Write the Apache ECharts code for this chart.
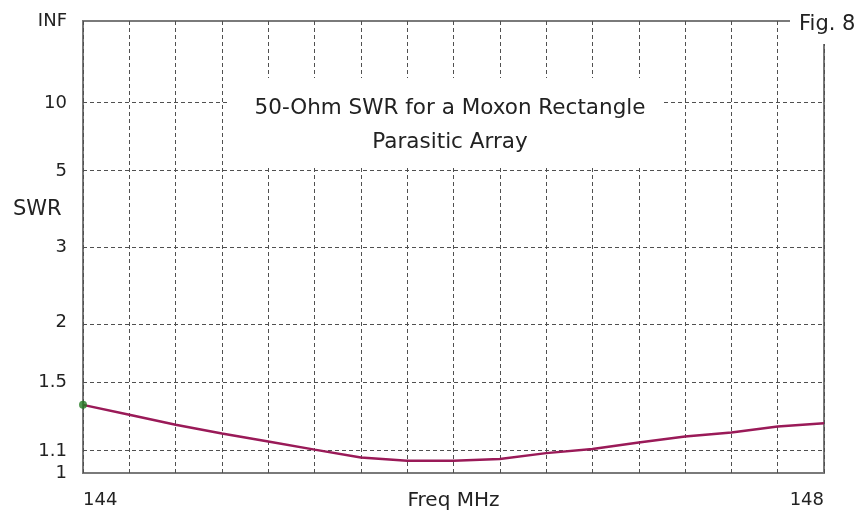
<!DOCTYPE html>
<html>
<head>
<meta charset="utf-8">
<script src="https://cdn.jsdelivr.net/npm/echarts@6/dist/echarts.min.js"></script>
<style>
  html, body { margin: 0; padding: 0; background: #fff; }
  #chart { width: 859px; height: 512px; }
</style>
</head>
<body>
<div id="chart"></div>
<script>
// frequency points (MHz) and SWR
const freqs = [144, 144.25, 144.5, 144.75, 145, 145.25, 145.5, 145.75, 146,
  146.25, 146.5, 146.75, 147, 147.25, 147.5, 147.75, 148];
const swr = [1.355, 1.296, 1.239, 1.192, 1.150, 1.109, 1.071, 1.056, 1.056,
  1.064, 1.092, 1.112, 1.145, 1.176, 1.197, 1.229, 1.248];

// y axis ticks (SWR scale, plotted as reflection coefficient)
const yTickLabels = ['INF', '10', '5', '3', '2', '1.5', '1.1', '1'];
const yTickSwr = [Infinity, 10, 5, 3, 2, 1.5, 1.1, 1];
const gridSwr = [10, 5, 3, 2, 1.5, 1.1];

const xLabels = [144, 148];

function toRho(s) {
  if (s === Infinity) return 1;
  return (s - 1) / (s + 1);
}

const yTickRho = yTickSwr.map(toRho);
const lineData = freqs.map(function (f, i) { return [f, toRho(swr[i])]; });

const textColor = '#222';
const gridColor = '#505050';
const fontFamily = '"DejaVu Sans", Verdana, sans-serif';

const chart = echarts.init(document.getElementById('chart'), null, { renderer: 'canvas' });

chart.setOption({
  animation: false,
  backgroundColor: '#fff',
  grid: {
    left: 83, right: 35, top: 21, bottom: 39,
    outerBoundsMode: 'none',
    containLabel: false,
    show: true,
    borderColor: '#7a7a7a',
    borderWidth: 2
  },
  xAxis: {
    type: 'value',
    min: 144,
    max: 148,
    interval: 0.25,
    name: 'Freq MHz',
    nameLocation: 'middle',
    nameGap: 18,
    nameMoveOverlap: false,
    nameTextStyle: { color: textColor, fontSize: 20, fontFamily: fontFamily, verticalAlign: 'top' },
    axisLine: { show: false },
    axisTick: { show: false },
    axisLabel: {
      margin: 18,
      color: textColor,
      fontSize: 18,
      fontFamily: fontFamily,
      alignMinLabel: 'left',
      alignMaxLabel: 'right',
      formatter: function (v) {
        return xLabels.indexOf(v) >= 0 ? String(v) : '';
      }
    },
    splitLine: {
      show: true,
      lineStyle: { color: gridColor, width: 1, type: [4, 3] }
    }
  },
  yAxis: {
    type: 'value',
    min: 0,
    max: 1,
    axisLine: { show: false },
    axisTick: { show: false },
    splitLine: { show: false },
    axisLabel: {
      margin: 16,
      color: textColor,
      fontSize: 18,
      fontFamily: fontFamily,
      customValues: yTickRho,
      formatter: function (v) {
        for (let i = 0; i < yTickRho.length; i++) {
          if (Math.abs(yTickRho[i] - v) < 1e-6) return yTickLabels[i];
        }
        return '';
      }
    }
  },
  graphic: [
    {
      type: 'rect', z: 100,
      shape: { x: 230, y: 78, width: 433, height: 90 },
      style: { fill: '#fff' }
    },
    {
      type: 'text', z: 101, x: 450, y: 108,
      style: {
        text: '50-Ohm SWR for a Moxon Rectangle', fill: textColor,
        font: '21.5px ' + fontFamily, textAlign: 'center', textVerticalAlign: 'middle'
      }
    },
    {
      type: 'text', z: 101, x: 450, y: 142,
      style: {
        text: 'Parasitic Array', fill: textColor,
        font: '21.5px ' + fontFamily, textAlign: 'center', textVerticalAlign: 'middle'
      }
    },
    {
      type: 'rect', z: 100,
      shape: { x: 790, y: 0, width: 69, height: 44 },
      style: { fill: '#fff' }
    },
    {
      type: 'text', z: 101, x: 799, y: 25,
      style: {
        text: 'Fig. 8', fill: textColor,
        font: '21px ' + fontFamily, textAlign: 'left', textVerticalAlign: 'middle'
      }
    },
    {
      type: 'text', z: 101, x: 13, y: 210,
      style: {
        text: 'SWR', fill: textColor,
        font: '21px ' + fontFamily, textAlign: 'left', textVerticalAlign: 'middle'
      }
    }
  ],
  series: [
    {
      name: 'SWR',
      type: 'line',
      data: lineData,
      showSymbol: false,
      lineStyle: { color: '#9a1a58', width: 2.5 },
      itemStyle: { color: '#9a1a58' },
      z: 5,
      markLine: {
        silent: true,
        symbol: ['none', 'none'],
        label: { show: false },
        lineStyle: { color: gridColor, width: 1, type: [4, 3] },
        data: gridSwr.map(function (s) { return { yAxis: toRho(s) }; })
      }
    },
    {
      name: 'start',
      type: 'scatter',
      data: [lineData[0]],
      symbol: 'circle',
      symbolSize: 8,
      itemStyle: { color: '#237a23' },
      z: 6
    }
  ]
});
</script>
</body>
</html>
